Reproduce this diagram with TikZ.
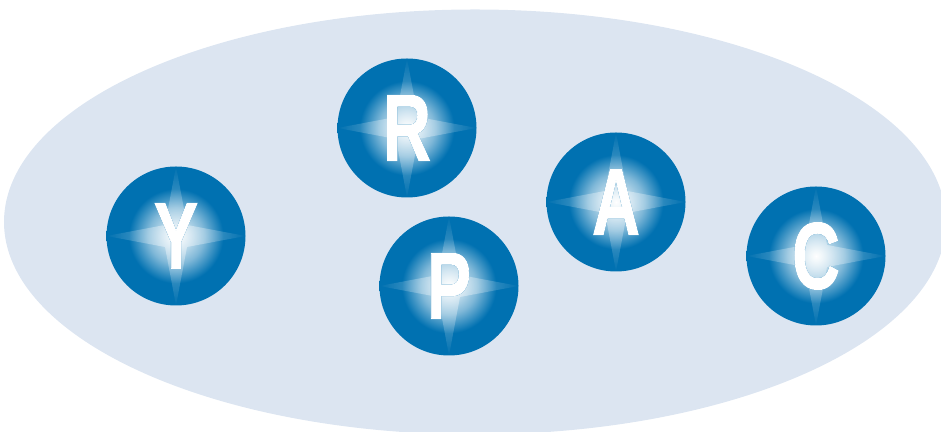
\documentclass[tikz,border=0pt]{standalone}
\usepackage{fontspec}
\setmainfont{Liberation Sans}
\newfontfamily\ballfont{Liberation Sans Bold}[FakeBold=1.2]
\usepackage[outline]{contour}
\usetikzlibrary{fadings}

\definecolor{ballblue}{HTML}{0071B1}
\definecolor{cellfill}{HTML}{DCE5F1}
\pgfdeclareradialshading{ballshade}{\pgfpoint{0bp}{0bp}}{color(0bp)=(white); color(2bp)=(white!90!ballblue); color(10bp)=(ballblue!50!white); color(17bp)=(ballblue); color(50bp)=(ballblue)}
\tikzfading[name=glowfade, inner color=transparent!0, outer color=transparent!100]
\contourlength{0.5pt}
\newcommand{\balltxt}[1]{\scalebox{0.70}[1]{\fontsize{54}{54}\selectfont\ballfont\contour{ballblue}{#1}}}

\begin{document}
\begin{tikzpicture}[
	ball/.style={circle, minimum size=2.78cm, inner sep=0pt, shading=ballshade, text=white,
		path picture={
			\fill[white, opacity=0.5, path fading=glowfade]
				(path picture bounding box.north) -- ([shift={(0.22,0.22)}]path picture bounding box.center)
				-- (path picture bounding box.east) -- ([shift={(0.22,-0.22)}]path picture bounding box.center)
				-- (path picture bounding box.south) -- ([shift={(-0.22,-0.22)}]path picture bounding box.center)
				-- (path picture bounding box.west) -- ([shift={(-0.22,0.22)}]path picture bounding box.center) -- cycle;
		}}
	]
	\useasboundingbox (0,0) rectangle (18.82,8.64);
	\begin{scope}
		\clip (0,0) rectangle (18.82,8.64);
		\fill[cellfill] (9.5,4.2) ellipse [x radius=9.42cm, y radius=4.25cm];
	\end{scope}
	% the five balls
	\node[ball] (y) at (3.52,3.92) {\balltxt{Y}};
	\node[ball] (r) at (8.14,6.08) {\balltxt{R}};
	\node[ball] (p) at (8.98,2.92) {\balltxt{P}};
	\node[ball] (a) at (12.32,4.60) {\balltxt{A}};
	\node[ball] (c) at (16.32,3.52) {\balltxt{C}};
\end{tikzpicture}
\end{document}
